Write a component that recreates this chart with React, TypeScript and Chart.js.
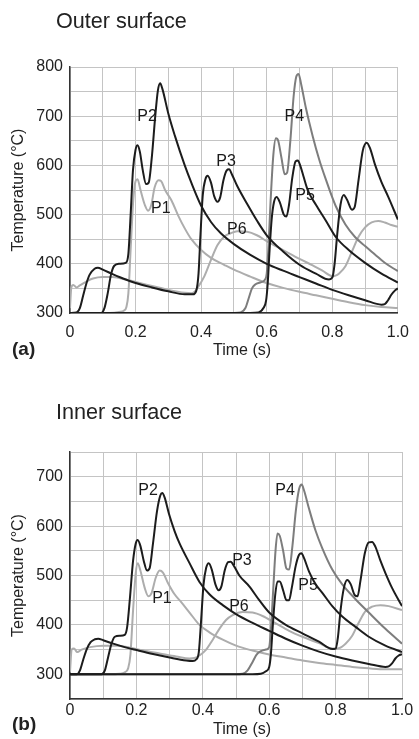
import React, { useEffect, useRef } from 'react';
import { Chart, registerables } from 'chart.js';

Chart.register(...registerables);

type Pt = [number, number];

const FONT = '"Liberation Sans", Arial, Helvetica, sans-serif';

// ---------- Outer surface (a) ----------
const OUTER_P1: Pt[] = [
  [0, 300], [0.12, 300], [0.15, 302], [0.165, 305], [0.172, 312], [0.178, 340], [0.185, 430], [0.193, 530],
  [0.2, 568], [0.206, 572], [0.215, 550], [0.228, 520], [0.238, 508], [0.248, 520], [0.258, 555], [0.27, 570],
  [0.278, 568], [0.29, 550], [0.31, 528], [0.33, 498], [0.35, 472], [0.37, 450], [0.4, 428], [0.43, 412],
  [0.47, 398], [0.5, 388], [0.55, 374], [0.6, 361], [0.65, 351], [0.7, 343], [0.75, 336], [0.8, 329],
  [0.85, 322], [0.9, 316], [0.95, 312], [1.0, 310],
];
const OUTER_P2: Pt[] = [
  [0, 300], [0.095, 300], [0.105, 310], [0.115, 340], [0.125, 378], [0.135, 396], [0.15, 400], [0.17, 402],
  [0.178, 420], [0.185, 500], [0.192, 590], [0.2, 632], [0.206, 641], [0.213, 628], [0.222, 590], [0.232, 562],
  [0.24, 565], [0.25, 620], [0.26, 700], [0.268, 752], [0.275, 767], [0.282, 755], [0.3, 705], [0.32, 660],
  [0.35, 600], [0.37, 565], [0.4, 518], [0.43, 485], [0.46, 462], [0.5, 440], [0.55, 418], [0.6, 400],
  [0.65, 386], [0.7, 373], [0.75, 360], [0.8, 347], [0.85, 336], [0.9, 326], [0.95, 317], [0.96, 318],
  [0.97, 326], [0.98, 337], [0.99, 345], [1.0, 350],
];
const OUTER_P3: Pt[] = [
  [0, 300], [0.02, 301], [0.03, 310], [0.04, 335], [0.05, 360], [0.06, 378], [0.075, 390], [0.085, 392],
  [0.1, 388], [0.13, 379], [0.17, 368], [0.2, 361], [0.25, 352], [0.3, 344], [0.35, 338], [0.375, 338],
  [0.385, 345], [0.392, 380], [0.398, 460], [0.405, 540], [0.413, 572], [0.42, 579], [0.43, 565], [0.44, 537],
  [0.45, 526], [0.458, 535], [0.468, 570], [0.478, 590], [0.485, 592], [0.495, 580], [0.51, 558], [0.54, 522],
  [0.57, 488], [0.6, 458], [0.65, 425], [0.7, 398], [0.75, 380], [0.79, 368], [0.8, 372], [0.807, 400],
  [0.815, 460], [0.825, 520], [0.835, 540], [0.845, 530], [0.86, 510], [0.868, 515], [0.88, 570], [0.893, 630],
  [0.905, 646], [0.915, 635], [0.93, 602], [0.95, 566], [0.97, 537], [1.0, 490],
];
const OUTER_P4: Pt[] = [
  [0, 300], [0.5, 300], [0.52, 301], [0.535, 310], [0.545, 330], [0.555, 350], [0.565, 358], [0.58, 362],
  [0.595, 368], [0.6, 380], [0.605, 430], [0.612, 530], [0.62, 620], [0.628, 655], [0.635, 650], [0.645, 615],
  [0.655, 582], [0.662, 585], [0.672, 650], [0.682, 740], [0.69, 780], [0.697, 786], [0.705, 765], [0.72, 715],
  [0.74, 660], [0.76, 612], [0.78, 572], [0.81, 518], [0.84, 480], [0.87, 454], [0.9, 436], [0.93, 419],
  [0.96, 402], [1.0, 385],
];
const OUTER_P5: Pt[] = [
  [0, 300], [0.55, 300], [0.575, 301], [0.59, 310], [0.598, 325], [0.603, 360], [0.608, 420], [0.615, 490],
  [0.622, 525], [0.63, 536], [0.64, 525], [0.652, 500], [0.66, 496], [0.668, 520], [0.678, 575], [0.688, 608],
  [0.695, 610], [0.703, 598], [0.712, 578], [0.725, 550], [0.75, 520], [0.78, 488], [0.81, 455], [0.85, 428],
  [0.9, 402], [0.95, 380], [1.0, 362],
];
const OUTER_P6: Pt[] = [
  [0, 310], [0.004, 352], [0.01, 357], [0.02, 352], [0.03, 356], [0.05, 364], [0.07, 370], [0.1, 373],
  [0.13, 373], [0.17, 368], [0.2, 363], [0.25, 355], [0.3, 347], [0.35, 341], [0.37, 340], [0.38, 343],
  [0.39, 352], [0.41, 375], [0.43, 408], [0.45, 438], [0.47, 455], [0.49, 462], [0.51, 466], [0.54, 465],
  [0.57, 458], [0.6, 446], [0.65, 428], [0.7, 410], [0.74, 397], [0.77, 386], [0.8, 375], [0.81, 376],
  [0.82, 380], [0.84, 395], [0.86, 425], [0.88, 455], [0.9, 474], [0.92, 484], [0.94, 487], [0.96, 484],
  [0.98, 479], [1.0, 475],
];

// ---------- Inner surface (b) ----------
const INNER_P1: Pt[] = [
  [0, 300], [0.12, 300], [0.15, 301], [0.165, 304], [0.175, 312], [0.182, 340], [0.19, 430], [0.198, 505],
  [0.204, 525], [0.212, 510], [0.225, 475], [0.236, 458], [0.246, 465], [0.258, 495], [0.27, 510], [0.28, 506],
  [0.295, 485], [0.315, 462], [0.335, 446], [0.36, 425], [0.39, 400], [0.42, 385], [0.46, 370], [0.5, 358],
  [0.55, 348], [0.6, 340], [0.65, 334], [0.7, 328], [0.75, 323], [0.8, 319], [0.85, 315], [0.9, 312],
  [0.95, 310], [1.0, 310],
];
const INNER_P2: Pt[] = [
  [0, 300], [0.095, 300], [0.105, 308], [0.115, 335], [0.125, 362], [0.135, 376], [0.15, 378], [0.165, 380],
  [0.172, 395], [0.18, 450], [0.19, 530], [0.198, 565], [0.204, 572], [0.212, 560], [0.222, 530], [0.232, 510],
  [0.24, 515], [0.25, 565], [0.262, 630], [0.272, 662], [0.278, 667], [0.285, 658], [0.298, 625], [0.315, 590],
  [0.33, 565], [0.36, 525], [0.39, 487], [0.42, 462], [0.46, 440], [0.5, 422], [0.55, 404], [0.6, 388],
  [0.65, 372], [0.7, 358], [0.75, 346], [0.8, 336], [0.85, 328], [0.9, 321], [0.95, 315], [0.96, 316],
  [0.97, 322], [0.98, 332], [0.99, 338], [1.0, 341],
];
const INNER_P3: Pt[] = [
  [0, 300], [0.02, 300], [0.03, 308], [0.04, 330], [0.05, 350], [0.062, 365], [0.075, 371], [0.085, 372],
  [0.1, 369], [0.13, 362], [0.17, 354], [0.2, 349], [0.25, 341], [0.3, 334], [0.35, 328], [0.37, 327],
  [0.38, 330], [0.388, 345], [0.395, 410], [0.402, 480], [0.41, 515], [0.418, 525], [0.427, 512], [0.438, 482],
  [0.448, 470], [0.456, 478], [0.466, 510], [0.476, 527], [0.484, 528], [0.495, 518], [0.51, 500], [0.54, 478],
  [0.57, 450], [0.6, 425], [0.65, 400], [0.7, 383], [0.75, 366], [0.79, 351], [0.8, 352], [0.807, 375],
  [0.815, 430], [0.825, 475], [0.835, 491], [0.845, 483], [0.858, 460], [0.866, 458], [0.875, 490], [0.888, 545],
  [0.9, 567], [0.91, 568], [0.92, 558], [0.935, 530], [0.95, 505], [0.97, 475], [1.0, 438],
];
const INNER_P4: Pt[] = [
  [0, 300], [0.5, 300], [0.52, 301], [0.535, 308], [0.55, 325], [0.562, 340], [0.575, 347], [0.59, 350],
  [0.6, 355], [0.605, 390], [0.612, 470], [0.619, 550], [0.625, 585], [0.632, 580], [0.642, 550], [0.652, 514],
  [0.66, 512], [0.67, 560], [0.68, 630], [0.69, 675], [0.698, 684], [0.705, 672], [0.72, 635], [0.74, 590],
  [0.76, 555], [0.79, 512], [0.82, 482], [0.86, 452], [0.9, 425], [0.95, 392], [1.0, 362],
];
const INNER_P5: Pt[] = [
  [0, 300], [0.55, 300], [0.575, 301], [0.59, 306], [0.6, 315], [0.605, 340], [0.611, 400], [0.618, 460],
  [0.625, 488], [0.632, 488], [0.642, 470], [0.652, 450], [0.66, 450], [0.668, 475], [0.68, 520], [0.69, 542],
  [0.697, 545], [0.705, 535], [0.72, 508], [0.74, 482], [0.76, 465], [0.79, 438], [0.82, 417], [0.86, 396],
  [0.9, 376], [0.95, 358], [1.0, 345],
];
const INNER_P6: Pt[] = [
  [0, 305], [0.005, 350], [0.012, 352], [0.022, 345], [0.035, 350], [0.06, 355], [0.1, 358], [0.14, 358],
  [0.18, 354], [0.22, 348], [0.27, 342], [0.32, 336], [0.36, 332], [0.375, 333], [0.39, 338], [0.41, 350],
  [0.43, 370], [0.45, 392], [0.47, 410], [0.49, 420], [0.52, 426], [0.55, 425], [0.58, 418], [0.62, 403],
  [0.66, 388], [0.7, 376], [0.75, 363], [0.79, 352], [0.81, 353], [0.83, 362], [0.85, 378], [0.87, 405],
  [0.89, 428], [0.91, 437], [0.935, 440], [0.96, 438], [1.0, 430],
];

// ---------- labels / ticks ----------
const SERIES_NAMES = ['P2', 'P3', 'P5', 'P4', 'P1', 'P6'];
const SERIES_COLORS = ['#1c1c1c', '#1c1c1c', '#1c1c1c', '#7d7d7d', '#adadad', '#adadad'];
const OUTER_SERIES: Pt[][] = [OUTER_P2, OUTER_P3, OUTER_P5, OUTER_P4, OUTER_P1, OUTER_P6];
const INNER_SERIES: Pt[][] = [INNER_P2, INNER_P3, INNER_P5, INNER_P4, INNER_P1, INNER_P6];

const LABEL_NAMES = ['P1', 'P2', 'P3', 'P4', 'P5', 'P6'];
const OUTER_LABEL_T = [0.277, 0.235, 0.476, 0.684, 0.717, 0.509];
const OUTER_LABEL_V = [513, 700, 607, 700, 538, 469];
const INNER_LABEL_T = [0.277, 0.235, 0.518, 0.648, 0.717, 0.509];
const INNER_LABEL_V = [454, 672, 531, 672, 479, 438];

const X_TICK_LABELS = ['0', '0.2', '0.4', '0.6', '0.8', '1.0'];

const seriesLabelPlugin = {
  id: 'seriesLabels',
  afterDatasetsDraw(chart: any, _args: any, opts: any) {
    const { ctx } = chart;
    const x = chart.scales.x;
    const y = chart.scales.y;
    ctx.save();
    ctx.font = `16px ${FONT}`;
    ctx.fillStyle = '#1a1a1a';
    ctx.textAlign = 'center';
    ctx.textBaseline = 'middle';
    (opts.names as string[]).forEach((n, i) => {
      ctx.fillText(n, x.getPixelForValue(opts.t[i]), y.getPixelForValue(opts.v[i]));
    });
    ctx.restore();
  },
};

interface PanelProps {
  series: Pt[][];
  yMin: number;
  yMax: number;
  padTop: number;
  xHeight: number;
  xTickPad: number;
  labelT: number[];
  labelV: number[];
  height: number;
  top: number;
}

function Panel(p: PanelProps) {
  const ref = useRef<HTMLCanvasElement | null>(null);
  useEffect(() => {
    if (!ref.current) return;
    const chart = new Chart(ref.current, {
      type: 'line',
      data: {
        datasets: p.series.map((pts, i) => ({
          label: SERIES_NAMES[i],
          data: pts.map(([x, y]) => ({ x, y })),
          borderColor: SERIES_COLORS[i],
          borderWidth: 2,
          pointRadius: 0,
          fill: false,
          cubicInterpolationMode: 'monotone' as const,
        })),
      },
      options: {
        animation: false,
        responsive: false,
        events: [],
        layout: { padding: { left: 0, right: 17, top: p.padTop, bottom: 0 } },
        plugins: {
          legend: { display: false },
          tooltip: { enabled: false },
          // @ts-ignore
          seriesLabels: { names: LABEL_NAMES, t: p.labelT, v: p.labelV },
        },
        scales: {
          x: {
            type: 'linear',
            min: 0,
            max: 1,
            afterFit: (s: any) => {
              s.height = p.xHeight;
            },
            ticks: {
              stepSize: 0.1,
              autoSkip: false,
              maxRotation: 0,
              padding: p.xTickPad,
              color: '#222',
              font: { size: 16, family: FONT },
              callback: (v: any) => {
                const k = Math.round(Number(v) * 10);
                return k % 2 === 0 ? X_TICK_LABELS[k / 2] : '';
              },
            },
            grid: { color: '#c4c4c4', lineWidth: 1, drawTicks: false },
            border: { color: '#333', width: 1.5 },
          },
          y: {
            type: 'linear',
            min: p.yMin,
            max: p.yMax,
            afterFit: (s: any) => {
              s.width = 70;
            },
            ticks: {
              stepSize: 50,
              autoSkip: false,
              padding: 7,
              color: '#222',
              font: { size: 16, family: FONT },
              callback: (v: any) => (Math.round(Number(v)) % 100 === 0 ? String(v) : ''),
            },
            grid: { color: '#c4c4c4', lineWidth: 1, drawTicks: false },
            border: { color: '#333', width: 1.5 },
            title: {
              display: true,
              text: 'Temperature (°C)',
              color: '#222',
              font: { size: 16, family: FONT },
              padding: { top: 9, bottom: 0 },
            },
          },
        },
      },
      plugins: [seriesLabelPlugin],
    });
    return () => chart.destroy();
  }, []);
  return (
    <canvas
      ref={ref}
      width={419}
      height={p.height}
      style={{ position: 'absolute', left: 0, top: p.top, width: 419, height: p.height }}
    />
  );
}

export default function App() {
  const txt: React.CSSProperties = { position: 'absolute', whiteSpace: 'nowrap', color: '#222' };
  return (
    <div
      style={{
        position: 'absolute',
        left: 0,
        top: 0,
        width: 419,
        height: 739,
        background: '#fff',
        fontFamily: FONT,
        overflow: 'hidden',
      }}
    >
      <Panel
        series={OUTER_SERIES}
        yMin={300}
        yMax={800}
        padTop={67}
        xHeight={57}
        xTickPad={10}
        labelT={OUTER_LABEL_T}
        labelV={OUTER_LABEL_V}
        height={370}
        top={0}
      />
      <Panel
        series={INNER_SERIES}
        yMin={250}
        yMax={750}
        padTop={82}
        xHeight={40}
        xTickPad={1.5}
        labelT={INNER_LABEL_T}
        labelV={INNER_LABEL_V}
        height={369}
        top={370}
      />
      <div style={{ ...txt, left: 56, top: 10, fontSize: 21.6, lineHeight: '21px' }}>Outer surface</div>
      <div style={{ ...txt, left: 56, top: 401, fontSize: 21.6, lineHeight: '21px' }}>Inner surface</div>
      <div style={{ ...txt, left: 12, top: 339, fontSize: 19, lineHeight: '19px', fontWeight: 'bold' }}>(a)</div>
      <div style={{ ...txt, left: 12, top: 714, fontSize: 19, lineHeight: '19px', fontWeight: 'bold' }}>(b)</div>
      <div style={{ ...txt, left: 242, top: 342, fontSize: 16, lineHeight: '16px', transform: 'translateX(-50%)' }}>
        Time (s)
      </div>
      <div style={{ ...txt, left: 242, top: 721, fontSize: 16, lineHeight: '16px', transform: 'translateX(-50%)' }}>
        Time (s)
      </div>
    </div>
  );
}
